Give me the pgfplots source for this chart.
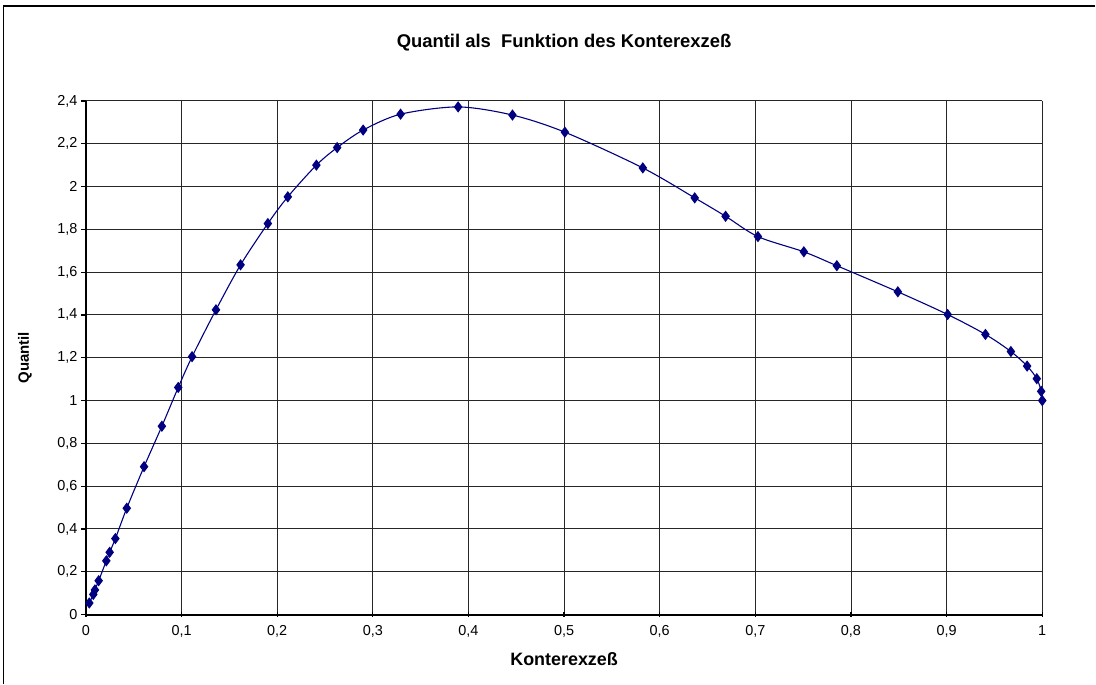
\documentclass[border=0pt]{standalone}
\usepackage{pgfplots}
\pgfplotsset{compat=1.18}
\usepackage{fontspec}
\setmainfont{Liberation Sans}
\definecolor{navy}{RGB}{0,0,128}

\begin{document}
\begin{tikzpicture}
\begin{axis}[
    scale only axis,
    width=957bp, height=514bp,
    xmin=0, xmax=1, ymin=0, ymax=2.4,
    xtick={0,0.1,...,1.01},
    ytick={0,0.2,...,2.41},
    grid=major,
    major grid style={black!85, line width=0.9bp},
    axis lines=left,
    axis line style={-, black, line width=2bp},
    xtick pos=bottom, ytick pos=left,
    xtick align=center, ytick align=outside,
    major tick length=5bp,
    tick style={black, line width=1.2bp},
    /pgf/number format/.cd, use comma, assume math mode=true,
    /pgfplots/.cd,
    xticklabel style={font=\fontsize{14.5}{16}\selectfont, yshift=-5bp},
    yticklabel style={font=\fontsize{14.5}{16}\selectfont},
    title={Quantil als \ Funktion des Konterexzeß},
    title style={at={(axis description cs:0.5,1)}, anchor=center, yshift=52bp,
                 font=\bfseries\fontsize{18.5}{21}\selectfont},
    xlabel={Konterexzeß},
    ylabel={Quantil},
    every axis x label/.style={at={(axis description cs:0.5,0)}, anchor=center,
                 yshift=-45bp, font=\bfseries\fontsize{18}{21}\selectfont},
    every axis y label/.style={at={(axis description cs:0,0.5)}, anchor=center,
                 rotate=90, yshift=61bp, font=\bfseries\fontsize{15}{18}\selectfont},
    clip=false,
]
\addplot[color=navy, line width=1.1bp, smooth, tension=0.5,
         mark=diamond*, mark size=4.8bp, mark options={fill=navy, draw=navy}]
coordinates {
    (0.0035, 0.054)
    (0.0077, 0.094)
    (0.0094, 0.115)
    (0.0133, 0.158)
    (0.0213, 0.251)
    (0.0248, 0.291)
    (0.0308, 0.355)
    (0.0427, 0.497)
    (0.0608, 0.691)
    (0.0794, 0.880)
    (0.0965, 1.061)
    (0.111, 1.205)
    (0.136, 1.424)
    (0.1617, 1.634)
    (0.1902, 1.827)
    (0.2111, 1.952)
    (0.241, 2.100)
    (0.2627, 2.182)
    (0.2899, 2.264)
    (0.329, 2.338)
    (0.3892, 2.372)
    (0.4460, 2.334)
    (0.5008, 2.254)
    (0.5823, 2.087)
    (0.6366, 1.947)
    (0.6689, 1.861)
    (0.7027, 1.766)
    (0.7507, 1.695)
    (0.7852, 1.630)
    (0.849, 1.508)
    (0.9011, 1.402)
    (0.9406, 1.309)
    (0.9672, 1.229)
    (0.9842, 1.161)
    (0.9943, 1.102)
    (0.9989, 1.043)
    (1.0, 1.0)
};
\end{axis}
% chart frame (cut at right and bottom edge like the reference)
\path (-86bp,-69bp) rectangle (1010bp,615bp);
\draw[line width=1.6bp] (-82.5bp,-69bp) -- (-82.5bp,609bp) -- (1010bp,609bp);
\end{tikzpicture}
\end{document}
